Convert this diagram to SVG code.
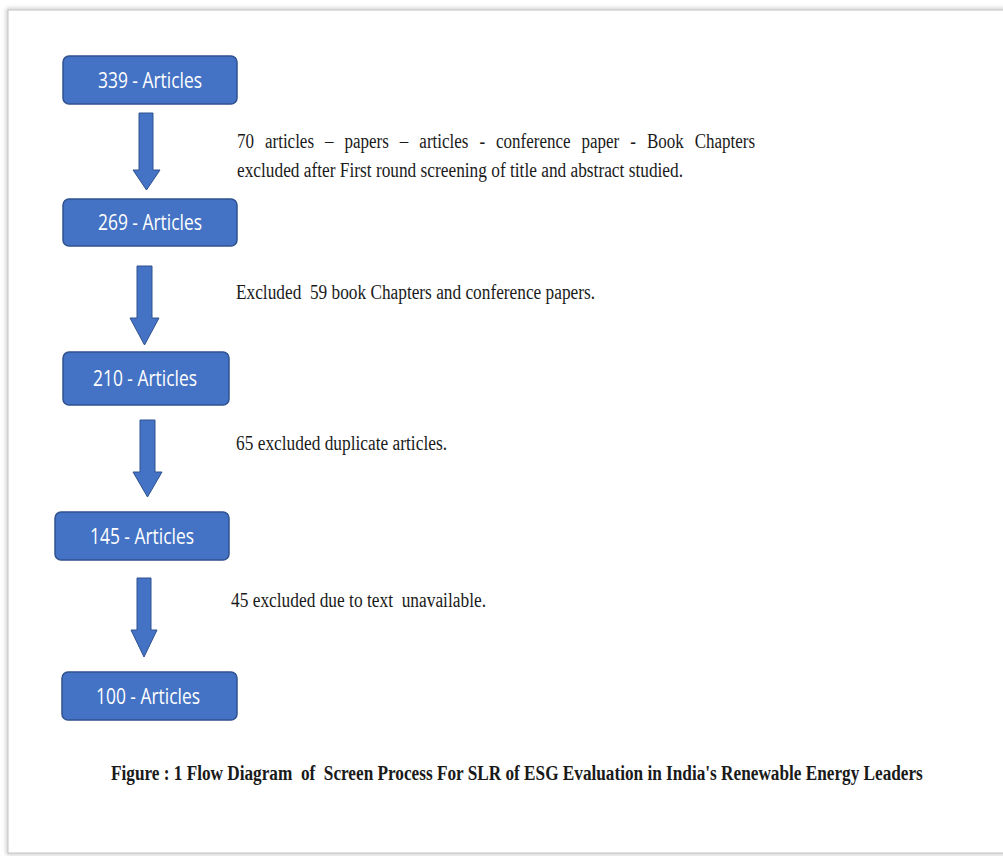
<svg xmlns="http://www.w3.org/2000/svg" width="1003" height="856" viewBox="0 0 1003 856">
<style>
.box{fill:#4472C4;stroke:#2F528F;stroke-width:1.5}
.bl{font-family:"Open Sans","Liberation Sans",sans-serif;font-size:22px;fill:#fff;text-anchor:middle}
.arr{fill:#4472C4;stroke:#2F528F;stroke-width:1}
.t{font-family:"Liberation Serif",serif;font-size:20px;fill:#1a1a1a}
.cap{font-family:"Liberation Serif",serif;font-size:20px;font-weight:bold;fill:#1a1a1a}
</style>
<defs>
<filter id="sh" x="-5%" y="-5%" width="110%" height="110%">
<feGaussianBlur stdDeviation="2"/>
</filter>
</defs>
<rect x="0" y="0" width="1003" height="856" fill="#fff"/>
<rect x="8" y="10" width="1010" height="843" fill="none" stroke="#bdbdbd" stroke-width="3" filter="url(#sh)"/>
<rect x="8" y="10" width="1010" height="843" fill="#fff" stroke="#c4c4c4" stroke-width="1"/>
<g id="connectors">
<path class="arr" d="M139,113 H153 V170 H160 L146.5,190 L133,170 H139 Z"/>
<path class="arr" d="M137,266 H152 V318 H159 L144.5,345 L130,318 H137 Z"/>
<path class="arr" d="M140,420 H155 V472 H162 L147.5,497 L133,472 H140 Z"/>
<path class="arr" d="M137,578 H151 V630 H157 L144,657 L131,630 H137 Z"/>
</g>
<g id="n339">
<rect class="box" x="63" y="56" width="174" height="48" rx="6"/>
<text class="bl" x="150" y="88" textLength="104" lengthAdjust="spacingAndGlyphs">339 - Articles</text>
</g>
<g id="n269">
<rect class="box" x="63" y="199" width="174" height="47" rx="6"/>
<text class="bl" x="150" y="230" textLength="104" lengthAdjust="spacingAndGlyphs">269 - Articles</text>
</g>
<g id="n210">
<rect class="box" x="63" y="352" width="166" height="53" rx="6"/>
<text class="bl" x="145" y="386" textLength="104" lengthAdjust="spacingAndGlyphs">210 - Articles</text>
</g>
<g id="n145">
<rect class="box" x="55" y="512" width="174" height="48" rx="6"/>
<text class="bl" x="142" y="544" textLength="104" lengthAdjust="spacingAndGlyphs">145 - Articles</text>
</g>
<g id="n100">
<rect class="box" x="62" y="672" width="175" height="48" rx="6"/>
<text class="bl" x="148" y="704" textLength="104" lengthAdjust="spacingAndGlyphs">100 - Articles</text>
</g>
<g id="labels">
<text class="t" x="237" y="148" word-spacing="8" textLength="518" lengthAdjust="spacingAndGlyphs">70 articles – papers – articles - conference paper - Book Chapters</text>
<text class="t" x="237" y="177" textLength="446" lengthAdjust="spacingAndGlyphs">excluded after First round screening of title and abstract studied.</text>
<text class="t" x="236" y="299" textLength="359" lengthAdjust="spacingAndGlyphs" xml:space="preserve">Excluded  59 book Chapters and conference papers.</text>
<text class="t" x="236" y="450" textLength="211" lengthAdjust="spacingAndGlyphs">65 excluded duplicate articles.</text>
<text class="t" x="231" y="607" textLength="255" lengthAdjust="spacingAndGlyphs" xml:space="preserve">45 excluded due to text  unavailable.</text>
<text class="cap" transform="translate(111,780) scale(0.82,1)" x="0" y="0" textLength="990" lengthAdjust="spacingAndGlyphs" xml:space="preserve">Figure : 1 Flow Diagram  of  Screen Process For SLR of ESG Evaluation in India's Renewable Energy Leaders</text>
</g>
</svg>
